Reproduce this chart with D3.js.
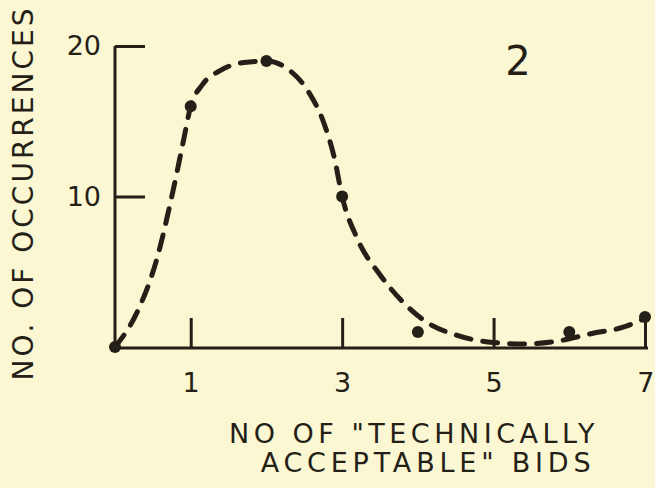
<!DOCTYPE html>
<html>
<head>
<meta charset="utf-8">
<script src="https://cdn.jsdelivr.net/npm/d3@7"></script>
<style>
  body { margin: 0; background: #fcf7d3; }
  svg { display: block; }
  text { font-family: "DejaVu Sans", sans-serif; fill: #241f17; }
</style>
</head>
<body>
<div id="chart"></div>
<script>
var width = 655, height = 488;
var ink = "#241f17";

// observed points
var bidCounts = [0, 1, 2, 3, 4, 6, 7];
var occurrences = [0, 16, 19, 10, 1, 1, 2];

// hand-drawn fitted curve
var curveX = [0, 0.3, 0.55, 0.75, 0.9, 1, 1.15, 1.4, 1.7, 2, 2.3, 2.55, 2.75, 2.9, 3, 3.2, 3.5, 3.8, 4.1, 4.5, 5, 5.4, 5.8, 6.3, 6.7, 7];
var curveY = [0, 2.4, 5.8, 10, 13.6, 16, 17.4, 18.4, 18.9, 19, 18.4, 17.0, 15.0, 12.5, 10, 7.2, 4.8, 3.0, 1.7, 0.8, 0.3, 0.2, 0.35, 0.9, 1.3, 1.9];

var xTicks = [1, 3, 5, 7];
var yTicks = [10, 20];

var svg = d3.select("#chart").append("svg")
    .attr("width", width)
    .attr("height", height);

var x = d3.scaleLinear().domain([0, 7]).range([115, 645]);
var y = d3.scaleLinear().domain([0, 20]).range([347, 46]);

// axes
var xAxis = svg.append("g")
    .attr("transform", "translate(0," + 348 + ")")
    .call(d3.axisBottom(x).tickValues(xTicks).tickFormat(d3.format("d"))
        .tickSizeInner(-30).tickSizeOuter(0).tickPadding(25));

var yAxis = svg.append("g")
    .attr("transform", "translate(" + 115 + ",0)")
    .call(d3.axisLeft(y).tickValues(yTicks).tickFormat(d3.format("d"))
        .tickSizeInner(-30).tickSizeOuter(0).tickPadding(14));

svg.selectAll(".domain, .tick line")
    .attr("stroke", ink)
    .attr("stroke-width", 3);

xAxis.select(".domain").attr("d", "M" + x(0) + ",0H" + (x(7) + 3));
yAxis.select(".domain").attr("d", "M0," + y(20) + "V" + 349);

svg.selectAll(".tick text")
    .style("font-size", "27px")
    .attr("fill", ink);

// last x label sits against the right edge
xAxis.selectAll(".tick text")
    .filter(function(d) { return d === 7; })
    .attr("text-anchor", "end")
    .attr("x", 654 - x(7));

// dashed curve
var line = d3.line()
    .x(function(d) { return x(d[0]); })
    .y(function(d) { return y(d[1]); })
    .curve(d3.curveMonotoneX);

svg.append("path")
    .datum(d3.zip(curveX, curveY))
    .attr("d", line)
    .attr("fill", "none")
    .attr("stroke", ink)
    .attr("stroke-width", 5)
    .attr("stroke-linecap", "round")
    .attr("stroke-dasharray", "15 12");

// points
svg.selectAll(".pt")
    .data(d3.zip(bidCounts, occurrences))
    .enter().append("circle")
    .attr("class", "pt")
    .attr("cx", function(d) { return x(d[0]); })
    .attr("cy", function(d) { return y(d[1]); })
    .attr("r", 6)
    .attr("fill", ink);

// labels
svg.append("text")
    .attr("x", 518)
    .attr("y", 75)
    .attr("text-anchor", "middle")
    .style("font-size", "40px")
    .text("2");

svg.append("text")
    .attr("x", 414)
    .attr("y", 443)
    .attr("text-anchor", "middle")
    .style("font-size", "27px")
    .style("letter-spacing", "4.5px")
    .text("NO OF \"TECHNICALLY");

svg.append("text")
    .attr("x", 428)
    .attr("y", 472)
    .attr("text-anchor", "middle")
    .style("font-size", "27px")
    .style("letter-spacing", "4.8px")
    .text("ACCEPTABLE\" BIDS");

svg.append("text")
    .attr("transform", "translate(33,193) rotate(-90)")
    .attr("text-anchor", "middle")
    .style("font-size", "28px")
    .style("letter-spacing", "3px")
    .text("NO. OF OCCURRENCES");
</script>
</body>
</html>
